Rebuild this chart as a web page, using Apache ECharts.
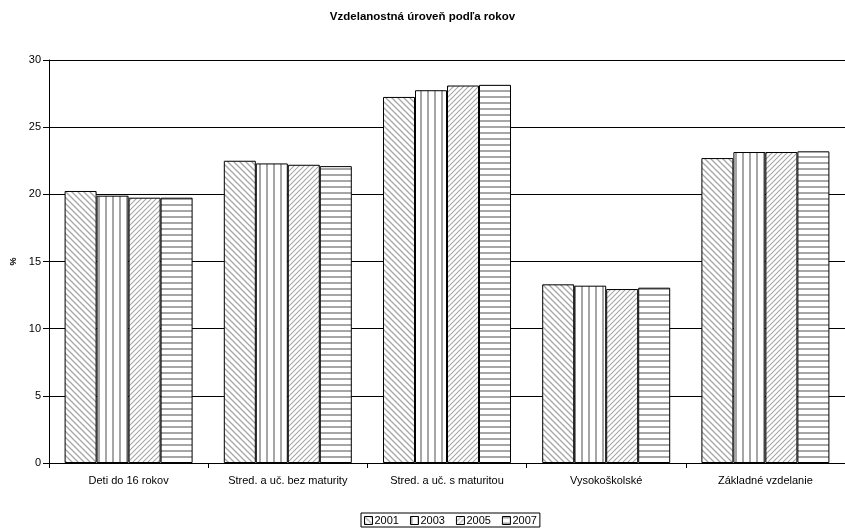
<!DOCTYPE html>
<html>
<head>
<meta charset="utf-8">
<script src="https://cdn.jsdelivr.net/npm/echarts@6/dist/echarts.min.js"></script>
<style>html,body{margin:0;padding:0;background:#fff}#c{width:845px;height:528px}</style>
</head>
<body>
<div id="c"></div>
<script>
const categories = ['Deti do 16 rokov', 'Stred. a uč. bez maturity', 'Stred. a uč. s maturitou', 'Vysokoškolské', 'Základné vzdelanie'];
const years = ['2001', '2003', '2005', '2007'];
const v2001 = [20.25, 22.5, 27.25, 13.3, 22.7];
const v2003 = [19.9, 22.3, 27.75, 13.2, 23.15];
const v2005 = [19.75, 22.2, 28.1, 12.95, 23.15];
const v2007 = [19.75, 22.1, 28.15, 13.05, 23.2];
const yTicks = [0, 5, 10, 15, 20, 25, 30];

const LINE = '#a6a6a6';
function tile(kind) {
  const n = kind === 'v' ? 7 : (kind === 'f' ? 5 : 6);
  const c = document.createElement('canvas');
  c.width = n; c.height = n;
  const g = c.getContext('2d');
  g.fillStyle = '#fff'; g.fillRect(0, 0, n, n);
  g.strokeStyle = LINE; g.fillStyle = LINE; g.lineWidth = 1.3;
  if (kind === 'h') { g.fillRect(0, 0, n, 2); }
  else if (kind === 'v') { g.fillRect(0, 0, 2, n); }
  else if (kind === 'b') {
    g.beginPath();
    g.moveTo(-1, -1); g.lineTo(n + 1, n + 1);
    g.moveTo(-1, n - 1); g.lineTo(1, n + 1);
    g.moveTo(n - 1, -1); g.lineTo(n + 1, 1);
    g.stroke();
  } else if (kind === 'f') {
    g.lineWidth = 1.1;
    g.beginPath();
    g.moveTo(-1, n + 1); g.lineTo(n + 1, -1);
    g.moveTo(-1, 1); g.lineTo(1, -1);
    g.moveTo(n - 1, n + 1); g.lineTo(n + 1, n - 1);
    g.stroke();
  }
  return { image: c, repeat: 'repeat' };
}
const patterns = [tile('b'), tile('v'), tile('f'), tile('h')];
const data = [v2001, v2003, v2005, v2007];
const FONT = 'Liberation Sans, Arial, sans-serif';

const chart = echarts.init(document.getElementById('c'), null, { renderer: 'canvas' });
chart.setOption({
  animation: false,
  backgroundColor: '#fff',
  title: {
    text: 'Vzdelanostná úroveň podľa rokov',
    left: 'center', top: 6,
    textStyle: { fontFamily: FONT, fontSize: 11.5, fontWeight: 'bold', color: '#000' }
  },
  legend: {
    bottom: 1, left: 361,
    data: years, icon: 'rect',
    borderColor: '#000', borderWidth: 1, padding: [2, 3, 1, 3],
    itemGap: 11, itemWidth: 8, itemHeight: 8,
    itemStyle: { borderWidth: 1, borderColor: '#000' },
    textStyle: { fontFamily: FONT, fontSize: 11, color: '#000', padding: [0, 0, 0, -3] }
  },
  grid: { left: 49, top: 60, width: 800, height: 403, containLabel: false },
  xAxis: {
    type: 'category', data: categories,
    axisLine: { lineStyle: { color: '#000', width: 1 } },
    axisTick: { show: true, length: 5, lineStyle: { color: '#000' } },
    axisLabel: { margin: 12, fontFamily: FONT, fontSize: 11, color: '#000' }
  },
  yAxis: {
    type: 'value', min: 0, max: 30, interval: 5,
    name: '%', nameLocation: 'middle', nameRotate: 90, nameGap: 28,
    nameTextStyle: { fontFamily: FONT, fontSize: 9, fontWeight: 'bold', color: '#000' },
    axisLine: { show: true, lineStyle: { color: '#000' } },
    axisTick: { show: true, length: 6, lineStyle: { color: '#000' } },
    axisLabel: { margin: 8, fontFamily: FONT, fontSize: 11, color: '#000',
      formatter: v => yTicks.includes(v) ? String(v) : '' },
    splitLine: { show: true, lineStyle: { color: '#000', width: 1 } }
  },
  series: years.map((y, i) => ({
    name: y, type: 'bar', data: data[i],
    barWidth: 32, barGap: '0%',
    itemStyle: { color: patterns[i], borderColor: '#000', borderWidth: 1 }
  }))
});
</script>
</body>
</html>
